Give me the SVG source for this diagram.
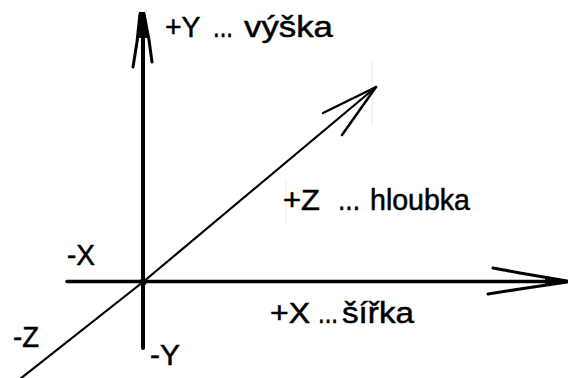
<svg xmlns="http://www.w3.org/2000/svg" width="568" height="378" viewBox="0 0 568 378">
<style>
.ax{fill:none;stroke:#000;stroke-linecap:round;stroke-linejoin:round}
.t{font-family:"Liberation Sans",Arial,sans-serif;font-size:29px;fill:#000;stroke:#000;stroke-width:0.5}
</style>
<rect width="568" height="378" fill="#fff"/>
<g id="artifacts" stroke="#f3ead6" stroke-width="1">
<line x1="372" y1="60" x2="372" y2="125"/>
<line x1="286" y1="180" x2="286" y2="225"/>
</g>
<g id="connectors">
<g id="y-axis">
<line class="ax" x1="143" y1="30" x2="143" y2="348" stroke-width="4"/>
<polygon points="139,12 145,12 149,38 138,38" fill="#000"/>
<polyline class="ax" points="133,67 137,42 140,14" stroke-width="3"/>
<polyline class="ax" points="152,62 149,40 144,14" stroke-width="3"/>
</g>
<g id="x-axis">
<line class="ax" x1="67" y1="281.5" x2="566" y2="281.5" stroke-width="3.5"/>
<polyline class="ax" points="493,268 520,273 567,281" stroke-width="3"/>
<polyline class="ax" points="488,294 520,289 567,282" stroke-width="3"/>
<polygon points="545,276 568,281 545,286" fill="#000"/>
</g>
<g id="z-axis">
<polyline class="ax" points="20,379 143,282 376,87" stroke-width="2.2"/>
<polyline class="ax" points="323,113 376,87" stroke-width="2.5"/>
<polyline class="ax" points="342,135 376,87" stroke-width="2.5"/>
<circle cx="143" cy="282" r="3.5" fill="#000"/>
</g>
</g>
<g id="label-py"><text class="t" y="37"><tspan x="165" textLength="35" lengthAdjust="spacingAndGlyphs">+Y</tspan> <tspan x="213" textLength="20" lengthAdjust="spacingAndGlyphs">...</tspan> <tspan x="244" textLength="89" lengthAdjust="spacingAndGlyphs">výška</tspan></text></g>
<g id="label-pz"><text class="t" y="210"><tspan x="283" textLength="37" lengthAdjust="spacingAndGlyphs">+Z</tspan> <tspan x="338" textLength="22" lengthAdjust="spacingAndGlyphs">...</tspan> <tspan x="370" textLength="100" lengthAdjust="spacingAndGlyphs">hloubka</tspan></text></g>
<g id="label-px"><text class="t" y="323"><tspan x="270" textLength="40" lengthAdjust="spacingAndGlyphs">+X</tspan> <tspan x="318" textLength="20" lengthAdjust="spacingAndGlyphs">...</tspan><tspan x="342" textLength="72" lengthAdjust="spacingAndGlyphs">šířka</tspan></text></g>
<g id="label-mx"><text class="t" x="67" y="265" textLength="28" lengthAdjust="spacingAndGlyphs">-X</text></g>
<g id="label-mz"><text class="t" x="13" y="347" textLength="26" lengthAdjust="spacingAndGlyphs">-Z</text></g>
<g id="label-my"><text class="t" x="150" y="365" textLength="30" lengthAdjust="spacingAndGlyphs">-Y</text></g>
</svg>
